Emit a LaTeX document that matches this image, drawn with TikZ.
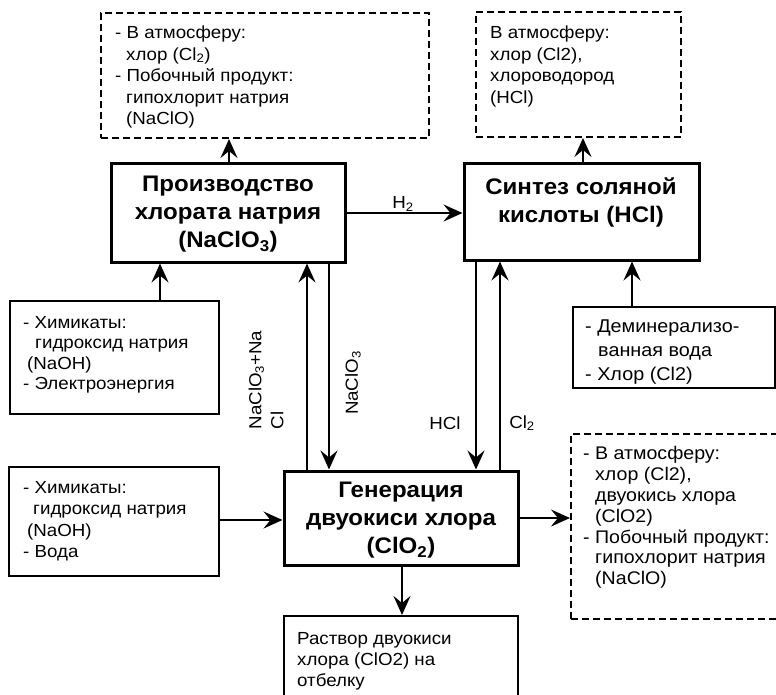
\documentclass[tikz,border=0pt]{standalone}
\usepackage{fontspec}
\setmainfont{Liberation Sans}[FakeStretch=1.07]
\usetikzlibrary{arrows.meta,calc}
\newcommand\subs[1]{\textsubscript{#1}}
\begin{document}
\begin{tikzpicture}[x=1pt,y=-1pt,
 thickbox/.style={draw, line width=3pt, inner sep=0pt},
 thinbox/.style={draw, line width=2pt, inner sep=0pt},
 dbox/.style={draw, line width=2pt, dash pattern=on 7pt off 4pt, inner sep=0pt},
 txt/.style={inner sep=0pt, anchor=north west, align=left, font=\fontsize{17.5}{21.5}\selectfont},
 ttl/.style={align=center, inner sep=0pt, font=\bfseries\fontsize{22.5}{28}\selectfont},
 arr/.style={line width=2pt, -{Stealth[length=19pt,width=17pt,inset=7pt]}},
 lbl/.style={inner sep=0pt, font=\fontsize{17.5}{22}\selectfont}]
\useasboundingbox (0,0) rectangle (776,694);
% boxes
\node[dbox, minimum width=328, minimum height=125] (D1) at (265,75.5) {};
\node[dbox, minimum width=205, minimum height=125] (D2) at (578.5,74.5) {};
\node[thickbox, minimum width=234, minimum height=99] (B1) at (228,212.5) {};
\node[thickbox, minimum width=235, minimum height=97] (B2) at (581.5,211.5) {};
\node[thinbox, minimum width=209, minimum height=113] (L1) at (114.5,357.5) {};
\node[thinbox, minimum width=202, minimum height=81] (R1) at (674,347.5) {};
\node[thinbox, minimum width=210, minimum height=109] (L2) at (114,521.5) {};
\node[thickbox, minimum width=234, minimum height=94] (B3) at (401,518) {};
\node[dbox, minimum width=209, minimum height=185] (D3) at (675.5,526.5) {};
\node[thinbox, minimum width=234, minimum height=88] (BB) at (401,660) {};
% titles
\node[ttl] (B1t) at (228,214.5) {Производство\\хлората натрия\\(NaClO\subs{3})};
\node[ttl] (B2t) at (581,202.5) {Синтез соляной\\кислоты (HCl)};
\node[ttl] (B3t) at (401,520) {Генерация\\двуокиси хлора\\(ClO\subs{2})};
% texts
\node[txt] (D1t) at (115,26) {- В атмосферу:\\\hspace*{11pt}хлор (Cl\subs{2})\\- Побочный продукт:\\\hspace*{11pt}гипохлорит натрия\\\hspace*{11pt}(NaClO)};
\node[txt] (D2t) at (490,26) {В атмосферу:\\хлор (Cl2),\\хлороводород\\(HCl)};
\node[txt, font=\fontsize{17.5}{20.5}\selectfont] (L1t) at (23,316) {- Химикаты:\\\hspace*{12pt}гидроксид натрия\\\hspace*{4pt}(NaOH)\\- Электроэнергия};
\node[txt, font=\fontsize{18.5}{24}\selectfont] (R1t) at (585,320) {- Деминерализо-\\\hspace*{13pt}ванная вода\\- Хлор (Cl2)};
\node[txt] (L2t) at (23,481) {- Химикаты:\\\hspace*{10pt}гидроксид натрия\\\hspace*{4pt}(NaOH)\\- Вода};
\node[txt, font=\fontsize{18.3}{20.9}\selectfont] (D3t) at (583,446) {- В атмосферу:\\\hspace*{12pt}хлор (Cl2),\\\hspace*{12pt}двуокись хлора\\\hspace*{12pt}(ClO2)\\- Побочный продукт:\\\hspace*{12pt}гипохлорит натрия\\\hspace*{12pt}(NaClO)};
\node[txt, font=\fontsize{17.5}{21}\selectfont] (BBt) at (297,632) {Раствор двуокиси\\хлора (ClO2) на\\отбелку};
% column coordinates
\coordinate (c229) at (229,0);
\coordinate (c583) at (583,0);
\coordinate (c160) at (160,0);
\coordinate (c307) at (307,0);
\coordinate (c329) at (329,0);
\coordinate (c476) at (476,0);
\coordinate (c500) at (500,0);
\coordinate (c632) at (632,0);
\coordinate (c402) at (402,0);
\coordinate (r213) at (0,213);
\coordinate (r520) at (0,520);
\coordinate (r518) at (0,518);
% connectors
\draw[arr] (B1.north -| c229) -- (D1.south -| c229);
\draw[arr] (B2.north -| c583) -- (D2.south -| c583);
\draw[arr] (B1.east |- r213) -- (B2.west |- r213);
\draw[arr] (L1.north -| c160) -- (B1.south -| c160);
\draw[arr] (B3.north -| c307) -- (B1.south -| c307);
\draw[arr] (B1.south -| c329) -- (B3.north -| c329);
\draw[arr] (B2.south -| c476) -- (B3.north -| c476);
\draw[arr] (B3.north -| c500) -- (B2.south -| c500);
\draw[arr] (R1.north -| c632) -- (B2.south -| c632);
\draw[arr] (L2.east |- r520) -- (B3.west |- r520);
\draw[arr] (B3.east |- r518) -- (D3.west |- r518);
\draw[arr] (B3.south -| c402) -- (BB.north -| c402);
% labels
\node[lbl] (h2) at (403,204) {H\subs{2}};
\node[lbl, rotate=90, align=left] (lab1) at (266,380) {NaClO\subs{3}+Na\\Cl};
\node[lbl, rotate=90] (lab2) at (353,383) {NaClO\subs{3}};
\node[lbl] (hcl) at (445,423) {HCl};
\node[lbl] (cl2) at (522,423) {Cl\subs{2}};
\end{tikzpicture}
\end{document}
